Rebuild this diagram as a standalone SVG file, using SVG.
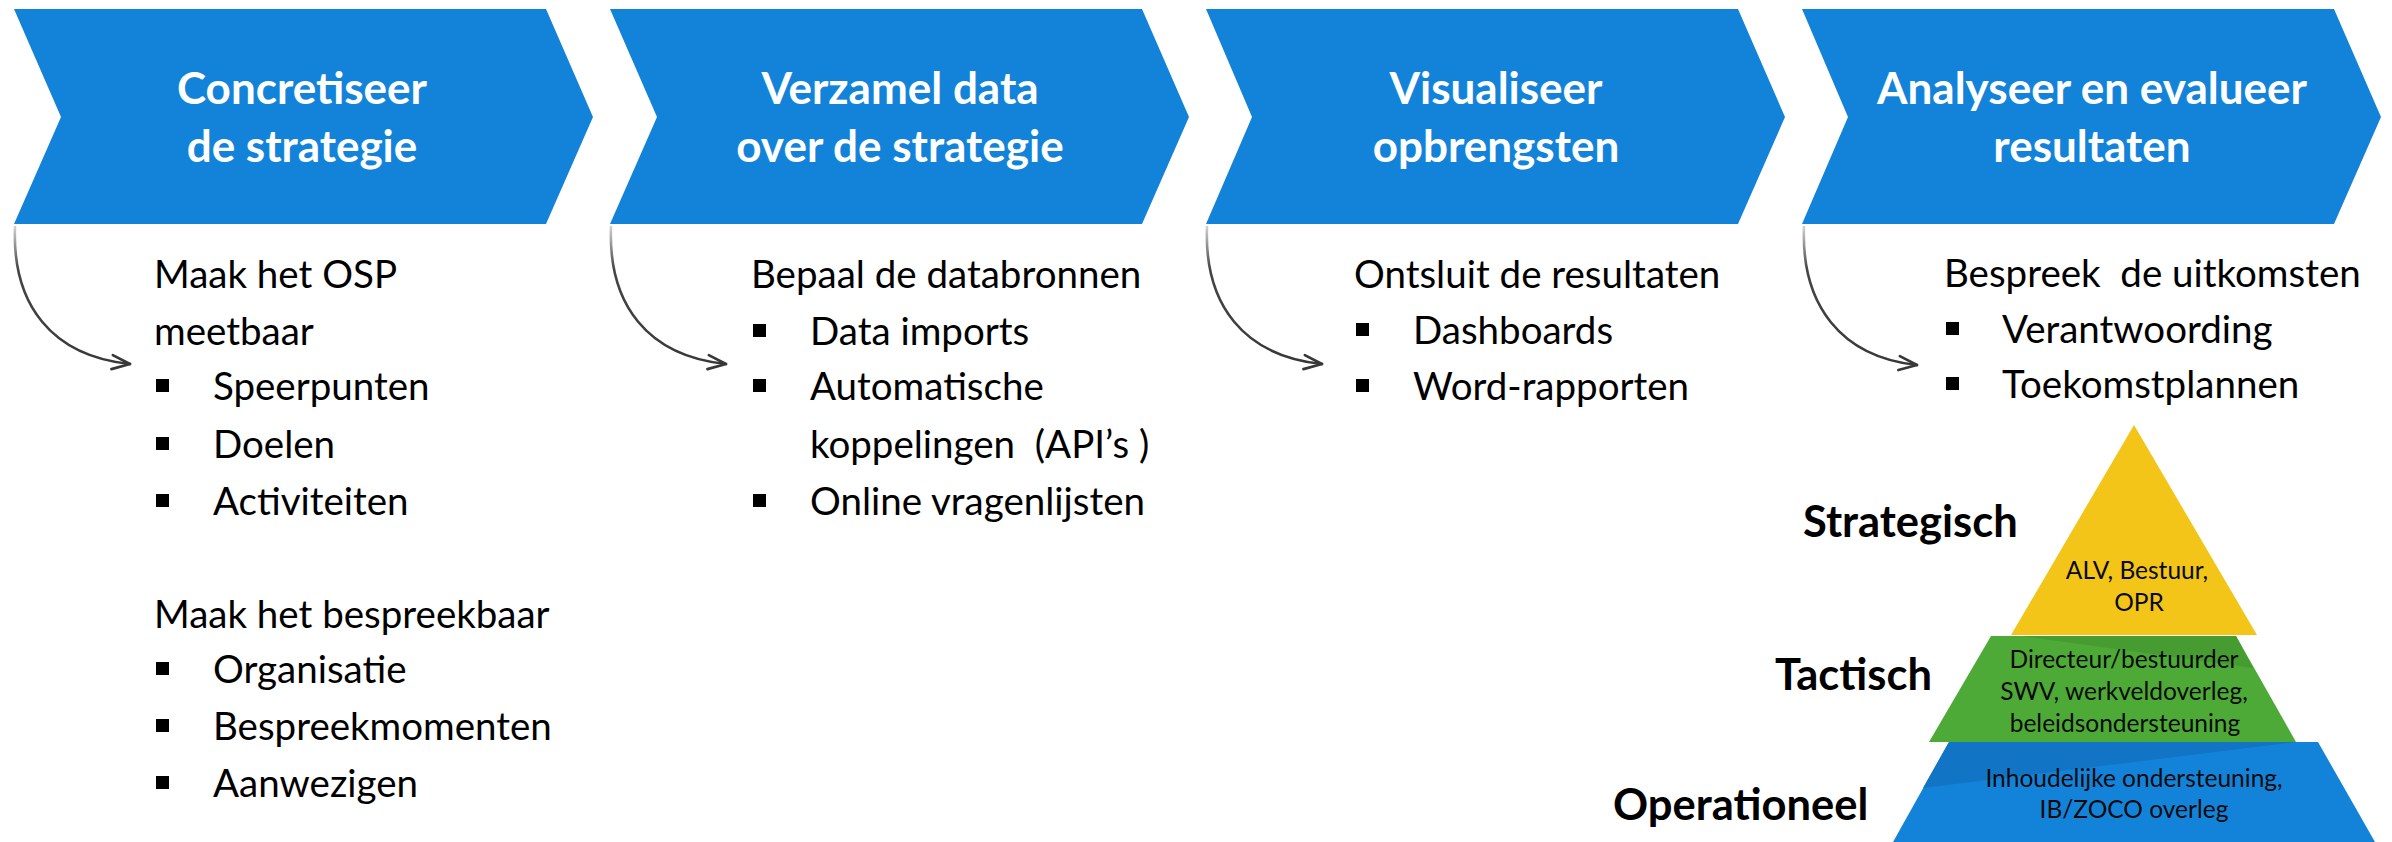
<svg xmlns="http://www.w3.org/2000/svg" width="2392" height="842" viewBox="0 0 2392 842">
<style>
.chev{fill:#1383da}
.title{font-family:Lato,"Liberation Sans",sans-serif;font-weight:700;font-size:44px;fill:#ffffff;text-anchor:middle}
.body{font-family:Lato,"Liberation Sans",sans-serif;font-size:38.5px;fill:#000000}
.pre{white-space:pre}
.bul{fill:#000000}
.conn{fill:none;stroke:url(#penc);stroke-width:2.6;stroke-linecap:round}
.ptxt{font-family:Lato,"Liberation Sans",sans-serif;font-size:24.5px;fill:#0a0a0a;text-anchor:middle}
.lvl{font-family:Lato,"Liberation Sans",sans-serif;font-weight:700;font-size:43.5px;fill:#000000}
</style>
<defs>
<linearGradient id="penc" x1="0" y1="0" x2="0" y2="1">
<stop offset="0" stop-color="#d0d0d0"/>
<stop offset="0.3" stop-color="#474747"/>
<stop offset="1" stop-color="#383838"/>
</linearGradient>
<marker id="arr" markerUnits="userSpaceOnUse" markerWidth="24" markerHeight="18" refX="20" refY="9" orient="auto">
<path d="M2,2 L20,9 L2,16" fill="none" stroke="#383838" stroke-width="2.6" stroke-linecap="round" stroke-linejoin="round"/>
</marker>
</defs>
<rect width="2392" height="842" fill="#ffffff"/>

<g id="step1">
<polygon class="chev" points="14,9 546,9 593,117 546,224 14,224 61,117"/>
<text class="title" x="302" y="104">Concretiseer</text>
<text class="title" x="302" y="162">de strategie</text>
</g>
<g id="step2">
<polygon class="chev" points="610,9 1142,9 1189,117 1142,224 610,224 657,117"/>
<text class="title" x="900" y="104">Verzamel data</text>
<text class="title" x="900" y="162">over de strategie</text>
</g>
<g id="step3">
<polygon class="chev" points="1206,9 1738,9 1785,117 1738,224 1206,224 1252,117"/>
<text class="title" x="1496" y="104">Visualiseer</text>
<text class="title" x="1496" y="162">opbrengsten</text>
</g>
<g id="step4">
<polygon class="chev" points="1802,9 2334,9 2381,117 2334,224 1802,224 1848,117"/>
<text class="title" x="2092" y="104">Analyseer en evalueer</text>
<text class="title" x="2092" y="162">resultaten</text>
</g>

<g id="connectors">
<path class="conn" d="M15,227 C12,305 52,356 130,364" marker-end="url(#arr)"/>
<path class="conn" d="M611,227 C608,305 648,356 726,364" marker-end="url(#arr)"/>
<path class="conn" d="M1207,227 C1204,305 1244,356 1322,364" marker-end="url(#arr)"/>
<path class="conn" d="M1804,227 C1801,305 1841,357 1917,365" marker-end="url(#arr)"/>
</g>

<g id="list1">
<text class="body" x="154" y="288">Maak het OSP</text>
<text class="body" x="154" y="345">meetbaar</text>
<rect class="bul" x="156" y="379" width="13" height="13"/>
<text class="body" x="213" y="400">Speerpunten</text>
<rect class="bul" x="156" y="437" width="13" height="13"/>
<text class="body" x="213" y="458">Doelen</text>
<rect class="bul" x="156" y="494" width="13" height="13"/>
<text class="body" x="213" y="515">Activiteiten</text>
<text class="body" x="154" y="628">Maak het bespreekbaar</text>
<rect class="bul" x="156" y="662" width="13" height="13"/>
<text class="body" x="213" y="683">Organisatie</text>
<rect class="bul" x="156" y="719" width="13" height="13"/>
<text class="body" x="213" y="740">Bespreekmomenten</text>
<rect class="bul" x="156" y="776" width="13" height="13"/>
<text class="body" x="213" y="797">Aanwezigen</text>
</g>

<g id="list2">
<text class="body" x="751" y="288">Bepaal de databronnen</text>
<rect class="bul" x="753" y="324" width="13" height="13"/>
<text class="body" x="810" y="345">Data imports</text>
<rect class="bul" x="753" y="379" width="13" height="13"/>
<text class="body" x="810" y="400">Automatische</text>
<text class="body pre" x="810" y="458">koppelingen  (API’s )</text>
<rect class="bul" x="753" y="494" width="13" height="13"/>
<text class="body" x="810" y="515">Online vragenlijsten</text>
</g>

<g id="list3">
<text class="body" x="1354" y="288">Ontsluit de resultaten</text>
<rect class="bul" x="1356" y="323" width="13" height="13"/>
<text class="body" x="1413" y="344">Dashboards</text>
<rect class="bul" x="1356" y="379" width="13" height="13"/>
<text class="body" x="1413" y="400">Word-rapporten</text>
</g>

<g id="list4">
<text class="body pre" x="1944" y="287">Bespreek  de uitkomsten</text>
<rect class="bul" x="1946" y="322" width="13" height="13"/>
<text class="body" x="2002" y="343">Verantwoording</text>
<rect class="bul" x="1946" y="377" width="13" height="13"/>
<text class="body" x="2002" y="398">Toekomstplannen</text>
</g>

<g id="pyramid-strategisch">
<polygon points="2134,425 2257,635 2011,635" fill="#f2c518"/>
<text class="ptxt" x="2137" y="579">ALV, Bestuur,</text>
<text class="ptxt" x="2139" y="611">OPR</text>
<text class="lvl" x="1803" y="537">Strategisch</text>
</g>
<g id="pyramid-tactisch">
<polygon points="1991,636 2236,636 2296,742 1929,742" fill="#4eaa37"/>
<polygon points="2022,636 2236,636 2253,668" fill="#469c31"/>
<text class="ptxt" x="2124" y="668">Directeur/bestuurder</text>
<text class="ptxt" x="2124" y="700">SWV, werkveldoverleg,</text>
<text class="ptxt" x="2125" y="732">beleidsondersteuning</text>
<text class="lvl" x="1775" y="690">Tactisch</text>
</g>
<g id="pyramid-operationeel">
<polygon points="1949,742 2318,742 2375,842 1893,842" fill="#1383da"/>
<polygon points="1949,742 2296,742 1923,788" fill="#1274c4"/>
<text class="ptxt" x="2134" y="787">Inhoudelijke ondersteuning,</text>
<text class="ptxt" x="2134" y="818">IB/ZOCO overleg</text>
<text class="lvl" x="1613" y="820">Operationeel</text>
</g>
</svg>
